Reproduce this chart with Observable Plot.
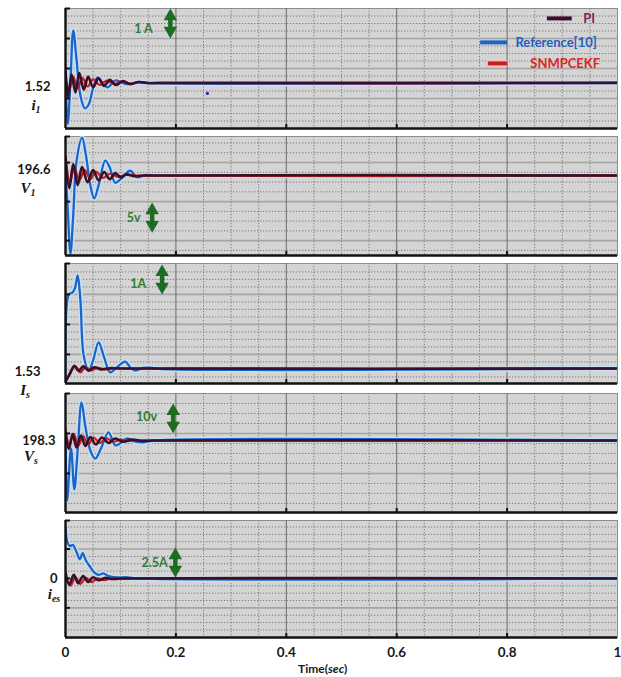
<!DOCTYPE html>
<html>
<head>
<meta charset="utf-8">
<script src="https://cdn.jsdelivr.net/npm/d3@7"></script>
<script src="https://cdn.jsdelivr.net/npm/@observablehq/plot@0.6"></script>
<style>
  html, body { margin: 0; padding: 0; background: #fff; }
  body { width: 621px; height: 677px; overflow: hidden; position: relative; font-family: Lato, "Open Sans", sans-serif; }
  #chart svg { display: block; }
  #xlabel { position: absolute; left: 298px; top: 661px; font: bold 12px Lato, sans-serif; color: #1a1a1a; }
</style>
</head>
<body>
<div id="chart"></div>
<div id="xlabel">Time(<i>sec</i>)</div>
<script>
// ---------- data ----------
const xTicks = [0, 0.2, 0.4, 0.6, 0.8, 1];
const seriesNames = ["PI", "Reference[10]", "SNMPCEKF"];
const steadyValues = [1.52, 196.6, 1.53, 198.3, 0];
const steadyLabels = ["1.52", "196.6", "1.53", "198.3", "0"];
const varNames = [["i", "1"], ["V", "1"], ["I", "s"], ["V", "s"], ["i", "es"]];
const scaleSteps = [1, 5, 1, 10, 2.5];
const scaleLabels = ["1 A", "5v", "1A", "10v", "2.5A"];

// i1 (A)
const i1Ref = [[0,1.55],[0.004,0.15],[0.009,1.6],[0.014,3.27],[0.02,2.3],[0.027,1.1],[0.035,0.67],[0.042,0.8],[0.05,1.35],[0.058,1.7],[0.066,1.55],[0.076,1.37],[0.09,1.6],[0.1,1.55],[0.11,1.48],[0.12,1.5],[0.135,1.55],[0.15,1.52],[1,1.52]];
const i1PI  = [[0,1.9],[0.005,1.05],[0.011,1.8],[0.018,1.2],[0.025,1.85],[0.033,1.3],[0.041,1.72],[0.05,1.38],[0.06,1.67],[0.07,1.42],[0.08,1.62],[0.092,1.45],[0.104,1.58],[0.118,1.48],[0.132,1.55],[0.15,1.51],[0.17,1.52],[1,1.52]];
const i1SN  = [[0,1.65],[0.007,1.3],[0.014,1.72],[0.022,1.35],[0.031,1.68],[0.04,1.4],[0.05,1.64],[0.062,1.45],[0.075,1.6],[0.088,1.47],[0.1,1.57],[0.115,1.49],[0.13,1.54],[0.15,1.52],[1,1.52]];
const strayDot = [[0.257, 1.17]];

// V1 (V)
const v1Ref = [[0,197.5],[0.004,191],[0.009,183.6],[0.014,190],[0.02,199],[0.03,202.9],[0.037,200],[0.045,195],[0.052,192.8],[0.06,195],[0.072,199.1],[0.08,198],[0.09,195.4],[0.1,196],[0.117,197.4],[0.13,196.3],[0.145,196.7],[0.16,196.6],[1,196.6]];
const v1PI  = [[0,199.5],[0.007,194.5],[0.014,198.5],[0.022,195],[0.03,198],[0.04,195.5],[0.05,197.5],[0.06,195.8],[0.07,197.2],[0.08,196],[0.09,197],[0.1,196.3],[0.11,196.8],[0.125,196.5],[0.14,196.6],[1,196.6]];
const v1SN  = [[0,199.8],[0.008,195.5],[0.016,198],[0.025,195.8],[0.035,197.5],[0.045,196],[0.055,197.2],[0.068,196.2],[0.08,196.9],[0.095,196.4],[0.11,196.7],[0.13,196.6],[1,196.6]];

// Is (A)
const isRef = [[0,1.2],[0.006,4.0],[0.012,4.05],[0.017,4.2],[0.022,4.63],[0.027,3.8],[0.033,1.96],[0.042,1.46],[0.05,1.8],[0.06,2.4],[0.07,1.9],[0.081,1.4],[0.095,1.6],[0.108,1.76],[0.118,1.55],[0.127,1.46],[0.14,1.55],[0.154,1.56],[0.17,1.52],[1,1.53]];
const isPI  = [[0,1.1],[0.008,1.35],[0.016,1.62],[0.024,1.45],[0.032,1.6],[0.042,1.46],[0.052,1.57],[0.064,1.5],[0.08,1.54],[0.1,1.53],[1,1.53]];
const isSN  = [[0,1.05],[0.01,1.45],[0.018,1.6],[0.027,1.4],[0.036,1.58],[0.046,1.47],[0.058,1.55],[0.072,1.5],[0.09,1.54],[0.11,1.53],[1,1.53]];

// Vs (V)
const vsRef = [[0,198.3],[0.003,178.3],[0.01,195.7],[0.016,182],[0.022,195],[0.029,211],[0.036,203],[0.045,195],[0.054,192.3],[0.065,196],[0.078,201],[0.09,196.7],[0.1,197.5],[0.112,199],[0.125,198],[0.14,197.7],[0.16,198.3],[1,198.3]];
const vsPI  = [[0,201],[0.006,195.5],[0.013,200.5],[0.02,196],[0.028,200],[0.036,196.5],[0.045,199.5],[0.055,197],[0.066,199.3],[0.078,197.5],[0.09,199],[0.104,197.9],[0.12,198.6],[0.14,198.2],[0.16,198.3],[1,198.3]];
const vsSN  = [[0,202],[0.007,197],[0.015,200.5],[0.023,196.5],[0.032,199.8],[0.041,197],[0.051,199.3],[0.062,197.5],[0.074,199],[0.087,197.9],[0.1,198.6],[0.118,198.2],[0.135,198.3],[1,198.3]];

// ies (A)
const iesRef = [[0,4.3],[0.003,3.1],[0.008,2.7],[0.013,2.8],[0.02,2.2],[0.026,1.6],[0.031,2.1],[0.037,1.5],[0.045,0.95],[0.052,0.5],[0.06,0.3],[0.068,0.42],[0.08,0.17],[0.095,0.08],[0.11,0.1],[0.13,0],[1,0]];
const iesPI  = [[0,0.5],[0.007,-0.5],[0.015,0.3],[0.023,-0.4],[0.032,0.2],[0.041,-0.3],[0.05,0.1],[0.06,-0.15],[0.072,0.05],[0.085,-0.05],[0.1,0],[1,0]];
const iesSN  = [[0,0.1],[0.009,-0.6],[0.018,0.1],[0.027,-0.45],[0.037,0.05],[0.047,-0.3],[0.058,0],[0.07,-0.15],[0.085,0.05],[0.1,-0.02],[0.12,0],[1,0]];

// ---------- layout ----------
const colors = { pi: "#3a0f2a", ref: "#1e64c8", refHalo: "#c4e2f8", sn: "#c81e1e", green: "#1e6b22", greenText: "#2f7d32" };
const panels = [
  { ref: i1Ref, pi: i1PI, sn: i1SN, height: 132, mt: 8, mb: 4, domain: [0, 4], majors: [1, 2, 3], minor: 0.25,
    arrow: { t: 0.19, y: 3.0 }, text: { t: 0.158, y: 3.33 }, lab: { dx: -15, dy: 3.5 }, varLab: { x: 36, dy: 25 } },
  { ref: v1Ref, pi: v1PI, sn: v1SN, height: 127, mt: 4, mb: 4, domain: [183.3, 203.1], majors: [198.77, 192.27, 185.77], minor: 1.625,
    arrow: { t: 0.157, y: 187.1 }, text: { t: 0.136, y: 189.6 }, lab: { dx: -15, dy: -6 }, varLab: { x: 28, dy: 15 } },
  { ref: isRef, pi: isPI, sn: isSN, height: 129, mt: 4, mb: 5, domain: [1.03, 5.03], majors: [2, 3, 4], minor: 0.25,
    arrow: { t: 0.175, y: 4.0 }, text: { t: 0.146, y: 4.36 }, lab: { dx: -25, dy: 3 }, varLab: { x: 25, dy: 24 } },
  { ref: vsRef, pi: vsPI, sn: vsSN, height: 128, mt: 5, mb: 4, domain: [174.3, 214], majors: [200.67, 187.33], minor: 3.333,
    arrow: { t: 0.195, y: 200.7 }, text: { t: 0.166, y: 206 }, lab: { dx: -10, dy: 0 }, varLab: { x: 31, dy: 18 } },
  { ref: iesRef, pi: iesPI, sn: iesSN, height: 141, mt: 4, mb: 20, domain: [-4.92, 4.83], majors: [-2.45, 0, 2.45], minor: 0.6125,
    arrow: { t: 0.199, y: 0.08 }, text: { t: 0.185, y: 1.33 }, lab: { dx: -8, dy: 0 }, varLab: { x: 54, dy: 18 } }
];
const legend = [
  { name: seriesNames[0], color: colors.pi, text: "#8a1c5c", x1: 0.873, x2: 0.918, tx: 0.938, y: 3.67 },
  { name: seriesNames[1], color: colors.ref, text: "#1f5fbf", x1: 0.752, x2: 0.801, tx: 0.815, y: 2.87 },
  { name: seriesNames[2], color: colors.sn, text: "#e02424", x1: 0.766, x2: 0.801, tx: 0.842, y: 2.17 }
];

function minorTicks(p) {
  const out = [];
  const base = p.majors[0], [a, b] = p.domain;
  const k0 = Math.ceil((a - base) / p.minor), k1 = Math.floor((b - base) / p.minor);
  for (let k = k0; k <= k1; k++) {
    const v = base + k * p.minor;
    if (p.majors.every(m => Math.abs(m - v) > p.minor * 0.3) && v > a + p.minor * 0.3 && v < b - p.minor * 0.3) out.push(v);
  }
  return out;
}
const minorX = d3.range(1, 20).filter(k => k % 4 !== 0).map(k => k * 0.05);

const chart = document.getElementById("chart");
const headR = 5;
const headTip = 2 * Math.sqrt((headR * headR * Math.PI) / (Math.sqrt(3) * 3)); // px from centre to tip

panels.forEach((p, i) => {
  const [y0, y1] = p.domain;
  const pxPerUnit = (p.height - p.mt - p.mb) / (y1 - y0);
  const step = scaleSteps[i];
  const tipU = headTip / pxPerUnit;
  const line = (data, opts) => Plot.line(data, { x: d => d[0], y: d => d[1], curve: "catmull-rom", clip: true, ...opts });
  const marks = [
    Plot.frame({ fill: "#d4d4d4", stroke: "#8e8e8e", strokeWidth: 1 }),
    Plot.ruleY(minorTicks(p), { stroke: "#7e7e7e", strokeDasharray: "1.3,1.7", strokeWidth: 1 }),
    Plot.ruleX(minorX, { stroke: "#7e7e7e", strokeDasharray: "1.3,1.7", strokeWidth: 1 }),
    Plot.ruleY(p.majors, { stroke: "#a4a4a4", strokeWidth: 1.6 }),
    Plot.ruleX(xTicks.slice(1, -1), { stroke: "#6c6c6c", strokeWidth: 1 }),
    line(p.ref, { stroke: colors.refHalo, strokeWidth: 5 }),
    line(p.ref, { stroke: colors.ref, strokeWidth: 2.3 }),
    line(p.sn, { stroke: colors.sn, strokeWidth: 2.2 }),
    line(p.pi, { stroke: colors.pi, strokeWidth: 2.6 }),
    // borders & ticks
    Plot.ruleX([0], { stroke: "#111", strokeWidth: 2.4 }),
    Plot.ruleY([y0], { stroke: "#111", strokeWidth: 2.4 }),
    Plot.ruleY([y1], { x1: 0, x2: 0.009, stroke: "#111", strokeWidth: 2 }),
    Plot.ruleX(xTicks.slice(1, -1), { y1: y0, y2: y0 + 4 / pxPerUnit, stroke: "#111", strokeWidth: 2 }),
    Plot.ruleY(p.majors, { x1: 0, x2: 0.009, stroke: "#111", strokeWidth: 2 }),
    // scale arrow (double headed)
    Plot.ruleX([p.arrow.t], { y1: p.arrow.y + step, y2: p.arrow.y, stroke: colors.green, strokeWidth: 4.5, insetTop: 9, insetBottom: 9 }),
    Plot.dot([[p.arrow.t, p.arrow.y + step - tipU]], { x: d => d[0], y: d => d[1], symbol: "triangle", r: headR, fill: colors.green }),
    Plot.dot([[p.arrow.t, p.arrow.y + tipU]], { x: d => d[0], y: d => d[1], symbol: "triangle", r: headR, fill: colors.green, rotate: 180 }),
    Plot.text([scaleLabels[i]], { x: () => p.text.t, y: () => p.text.y, text: d => d, textAnchor: "end", fill: colors.greenText, fontWeight: "bold", fontSize: 12.5 }),
    // steady label
    Plot.text([steadyValues[i]], { y: d => d, frameAnchor: "left", text: () => steadyLabels[i], textAnchor: "end", dx: p.lab.dx, dy: p.lab.dy, fontWeight: "bold", fontSize: 13, fill: "#161616" })
  ];
  if (i === 0) {
    marks.push(
      Plot.dot(strayDot, { x: d => d[0], y: d => d[1], r: 1.6, fill: "#2a2aa0" }),
      Plot.ruleY(legend, { y: "y", x1: "x1", x2: "x2", stroke: "#f4c4c4", strokeWidth: 7, filter: d => d.name === "SNMPCEKF" }),
      Plot.ruleY(legend, { y: "y", x1: "x1", x2: "x2", stroke: "color", strokeWidth: 4 }),
      Plot.text(legend, { x: "tx", y: "y", text: "name", fill: "text", textAnchor: "start", fontWeight: "bold", fontSize: 13 })
    );
  }
  if (i === panels.length - 1) {
    marks.push(Plot.axisX(xTicks, { tickSize: 0, tickPadding: 10, fontWeight: "bold", fontSize: 13.5, tickFormat: d => String(d), label: null, color: "#1a1a1a" }));
  }
  const plot = Plot.plot({
    width: 621,
    height: p.height,
    marginLeft: 65,
    marginRight: 4,
    marginTop: p.mt,
    marginBottom: p.mb,
    style: { fontFamily: "Lato, 'Open Sans', sans-serif", background: "#fff", overflow: "visible" },
    x: { domain: [0, 1], ...(i === panels.length - 1 ? {} : { axis: null }) },
    y: { domain: p.domain, axis: null },
    color: { type: "identity" },
    marks
  });
  // variable name with subscript
  const ys = plot.scale("y").apply(steadyValues[i]) + p.varLab.dy;
  const t = d3.select(plot).append("text")
    .attr("x", p.varLab.x).attr("y", ys)
    .attr("text-anchor", "middle").attr("dominant-baseline", "middle")
    .attr("font-family", "'Liberation Serif', 'DejaVu Serif', serif")
    .attr("font-weight", "bold").attr("font-style", "italic")
    .attr("font-size", 15).attr("fill", "#161616");
  t.append("tspan").text(varNames[i][0]);
  t.append("tspan").attr("font-size", 10).attr("dy", 4).text(varNames[i][1]);
  chart.appendChild(plot);
});
</script>
</body>
</html>
